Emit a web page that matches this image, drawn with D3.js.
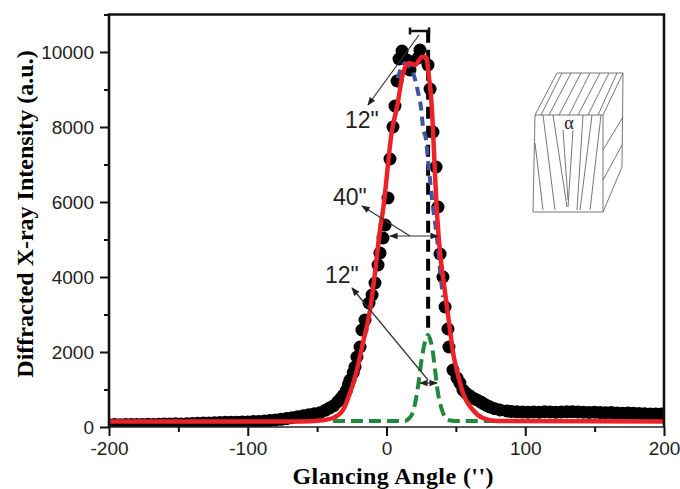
<!DOCTYPE html>
<html lang="en">
<head>
  <meta charset="utf-8" />
  <title>Glancing angle peak</title>
  <script src="https://d3js.org/d3.v7.min.js"></script>
  <style>
    body { margin: 0; background: #fff; }
    .tick text { font-family: "Liberation Sans", Arial, sans-serif; font-size: 19px; fill: #222; }
    .axis-title { font-family: "Liberation Serif", serif; font-size: 24px; font-weight: bold; fill: #000; }
    .note { font-family: "Liberation Sans", Arial, sans-serif; font-size: 23px; fill: #222; }
  </style>
</head>
<body>
<svg id="chart" width="680" height="489"></svg>
<script>
    // values
    var dotX = [-200,-196,-192,-188,-184,-180,-176,-172,-168,-164,-160,-156,-152,-148,-144,-140,-136,-132,-128,-124,-120,-116,-112,-108,-104,-100,-96,-92,-88,-84,-80,-76,-72,-68,-64,-60,-56,-52,-48,-44,-41,-38,-35,-33,-31,-29,-27.5,-26.3,-24,-22.7,-21.3,-19.1,-17.7,-15.5,-12.6,-10.4,-8.3,-6.1,-4.7,-2.5,-1,1.1,2.5,4.7,6.1,7.6,9,11.2,14.8,16.9,22.7,24.1,29.9,31.4,33.5,35.7,37.1,38.6,40.7,42.2,44.3,45,47.9,50.8,52.9,55.1,57.5,60.2,62.5,65.2,68,70.3,72.5,74.6,78,81.8,86.8,90,94,98,102,106,110,114,118,122,126,130,134,138,142,146,150,154,158,162,166,170,174,178,182,186,190,194,198,200];
    var dotY = [60,65,60,70,70,65,70,75,70,75,80,80,85,80,90,95,100,105,110,115,120,125,125,130,135,135,145,150,160,175,190,205,225,250,275,300,330,355,380,450,510,570,680,760,850,970,1130,1253,1450,1600,1867,2133,2587,2853,3307,3520,3840,4320,4640,5040,5387,6107,7147,8000,8560,9227,9813,10027,9787,9520,9840,10053,9653,9013,7867,6933,5867,4613,4000,3200,2613,2133,1520,1307,1173,987,900,827,770,720,665,613,570,533,490,453,427,415,405,400,395,400,395,405,400,395,400,405,410,400,395,390,395,385,380,385,375,370,375,365,360,355,350,350,345,345];
    var fitX = [-200,-62.3,-47.9,-38.6,-31.4,-26.3,-21.3,-17,-11.9,-8.3,-4.7,-2.5,4,7.6,11.9,16.2,20.5,25.6,28.5,30.6,32.8,33.5,36.4,38.6,40.7,45.8,47.9,50.8,55.1,62.3,69.5,79.6,200];
    var fitY = [147,147,173,240,453,907,1520,2240,3120,4107,5253,5787,7920,8533,9440,9707,9653,9867,9867,9333,8453,7920,5707,4640,4000,2587,2000,1500,907,453,240,160,150];
    var blueX = [8,13,19.1,22.7,24.9,26.3,28.5,29.9,31.4,33.5,35.7,37.1,39.3,40.7];
    var blueY = [9300,9700,9440,8933,8507,8000,7653,7120,6587,5867,5253,4800,3920,3467];
    var blackX = [30,30];
    var blackY = [10570,2500];
    var greenX = [-38.6,-10,13.3,16,19.1,22,25.6,27.7,29.9,32,33.5,35,37.1,40,44.3,50,60,81.8];
    var greenY = [160,160,160,220,400,907,1867,2267,2453,2267,1973,1520,907,453,187,160,160,160];
    var xTicks = [-200,-100,0,100,200];
    var xMinor = [-150,-50,50,150];
    var yTicks = [0,2000,4000,6000,8000,10000];
    var yMinor = [1000,3000,5000,7000,9000,11000];

    var svg = d3.select('#chart');
    var x = d3.scaleLinear().domain([-200,200]).range([109,664]);
    var y = d3.scaleLinear().domain([0,11000]).range([427,14.5]);

    var defs = svg.append('defs');
    defs.append('clipPath').attr('id','plot').append('rect')
        .attr('x',x(-200)).attr('y',y(11000)).attr('width',x(200)-x(-200)).attr('height',y(0)-y(11000));
    defs.append('marker').attr('id','arr').attr('viewBox','0 0 10 10').attr('refX',9).attr('refY',5)
        .attr('markerWidth',10).attr('markerHeight',7).attr('orient','auto-start-reverse')
        .append('path').attr('d','M0,1 L10,5 L0,9 Z').attr('fill','#222');

    // dots first, everything else sits on top
    svg.append('g').attr('clip-path','url(#plot)').selectAll('circle').data(dotX).enter().append('circle')
        .attr('cx',function(d) { return x(d); })
        .attr('cy',function(d,i) { return y(dotY[i]); })
        .attr('r',6.5).attr('fill','#000');

    var line = d3.line().x(function(d) { return x(d[0]); }).y(function(d) { return y(d[1]); });
    function draw(xs,ys,color,w,dash) {
        svg.append('path').datum(d3.zip(xs,ys))
            .attr('d',line.curve(d3.curveMonotoneX))
            .attr('fill','none').attr('stroke',color).attr('stroke-width',w)
            .attr('stroke-dasharray',dash||null);
    }
    svg.append('path').datum(d3.zip(blackX,blackY))
        .attr('d',d3.line().x(function(d) { return x(d[0]); }).y(function(d) { return y(d[1]); }))
        .attr('fill','none').attr('stroke','#000').attr('stroke-width',4).attr('stroke-dasharray','12 7');
    draw(blueX,blueY,'#3a55a5',4,'9 6');
    draw(greenX,greenY,'#1f8a3c',4,'12 6');
    draw(fitX,fitY,'#ec2229',4.5);

    // frame
    svg.append('path').attr('d','M'+x(-200)+','+y(0)+' V'+y(11000)+' H'+x(200)+' V'+y(0))
        .attr('fill','none').attr('stroke','#111').attr('stroke-width',2.6);
    svg.append('line').attr('x1',x(-200)).attr('x2',x(200)).attr('y1',y(0)).attr('y2',y(0))
        .attr('stroke','#222').attr('stroke-width',1.6);

    function plainNum(d) { return String(d); }
    svg.append('g').attr('transform','translate(0,427)')
        .call(d3.axisBottom(x).tickValues(xTicks).tickSize(9).tickPadding(6).tickFormat(plainNum));
    svg.append('g').attr('transform','translate(0,427)')
        .call(d3.axisBottom(x).tickValues(xMinor).tickSize(5).tickFormat(''));
    svg.append('g').attr('transform','translate(109,0)')
        .call(d3.axisLeft(y).tickValues(yTicks).tickSize(9).tickPadding(6).tickFormat(plainNum));
    svg.append('g').attr('transform','translate(109,0)')
        .call(d3.axisLeft(y).tickValues(yMinor).tickSize(5).tickFormat(''));
    svg.selectAll('.domain').remove();
    svg.selectAll('.tick line').attr('stroke','#111').attr('stroke-width',2);

    svg.append('text').attr('class','axis-title').attr('x',393).attr('y',484).attr('text-anchor','middle').attr('textLength',201).text("Glancing Angle ('')");
    svg.append('text').attr('class','axis-title').attr('transform','translate(33,214) rotate(-90)').attr('text-anchor','middle').text('Diffracted X-ray Intensity (a.u.)');

    // annotations
    function arrow(x1,y1,x2,y2,both) {
        var l = svg.append('line').attr('x1',x1).attr('y1',y1).attr('x2',x2).attr('y2',y2)
            .attr('stroke','#333').attr('stroke-width',1.2).attr('marker-end','url(#arr)');
        if (both) l.attr('marker-start','url(#arr)');
    }
    arrow(419,35,368,105);
    arrow(410,236,362,206);
    arrow(390,236,438,236,true);
    arrow(428,380,352,288);
    arrow(420,383,437,383,true);
    svg.append('path').attr('d','M410,31 H429 M410,27.5 V34.5 M429,27.5 V34.5').attr('stroke','#111').attr('stroke-width',2.5).attr('fill','none');
    svg.append('text').attr('class','note').attr('x',345).attr('y',128).text('12"');
    svg.append('text').attr('class','note').attr('x',333).attr('y',205).text('40"');
    svg.append('text').attr('class','note').attr('x',325).attr('y',283).text('12"');

    // inset crystal sketch
    var g = svg.append('g').attr('fill','none').attr('stroke','#666').attr('stroke-width',0.9);
    g.append('path').attr('d','M535,115 L557,73 H623 L603,115 Z M535,115 L533,212 H603 V115 M603,212 L622,167 L623,73');
    [[541,115,562,73],[549,115,571,73],[559,115,581,73],[569,115,590,73],[578,115,600,73],[588,115,609,73],[598,115,617,73]].forEach(function(s) {
        g.append('line').attr('x1',s[0]).attr('y1',s[1]).attr('x2',s[2]).attr('y2',s[3]);
    });
    [[535,143,543,210],[543,115,555,210],[553,115,567,207],[563,130,568,200],[573,130,568,207],[583,115,577,210],[592,115,580,210],[601,115,590,210]].forEach(function(s) {
        g.append('line').attr('x1',s[0]).attr('y1',s[1]).attr('x2',s[2]).attr('y2',s[3]);
    });
    [[603,150,623,117],[603,180,622,145]].forEach(function(s) {
        g.append('line').attr('x1',s[0]).attr('y1',s[1]).attr('x2',s[2]).attr('y2',s[3]);
    });
    svg.append('text').attr('x',569).attr('y',129).attr('text-anchor','middle').attr('font-family','Liberation Serif').attr('font-size',18).attr('fill','#222').text('α');
</script>
</body>
</html>
